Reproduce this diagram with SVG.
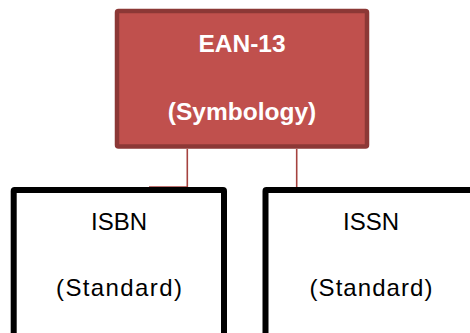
<svg xmlns="http://www.w3.org/2000/svg" width="470" height="333" viewBox="0 0 470 333">
<style>
.conn{fill:none;stroke:#A5423F;stroke-width:1.6}
.top rect{fill:#C0504D;stroke:#8C3836;stroke-width:4.5}
.top text{fill:#FFFFFF;font-family:"Liberation Sans",Arial,sans-serif;font-weight:bold;font-size:24.5px;text-anchor:middle}
.std rect{fill:#FFFFFF;stroke:#000000;stroke-width:6}
.std text{fill:#000000;font-family:"Liberation Sans",Arial,sans-serif;font-size:24px;text-anchor:middle}
</style>
<rect width="470" height="333" fill="#FFFFFF"/>
<g id="connectors">
<path class="conn" d="M187.3,149 V187 H149"/>
<path class="conn" d="M296.7,149 V188"/>
</g>
<g id="ean13" class="top">
<rect x="117" y="11" width="250" height="135.5" rx="1.5"/>
<text x="242" y="52">EAN-13</text>
<text x="242" y="120">(Symbology)</text>
</g>
<g id="isbn" class="std">
<rect x="13.7" y="190" width="210.3" height="160" rx="1"/>
<text x="119" y="230">ISBN</text>
<text x="119" y="296" textLength="126" lengthAdjust="spacing">(Standard)</text>
</g>
<g id="issn" class="std">
<rect x="265.5" y="190" width="210.5" height="160" rx="1"/>
<text x="371" y="230">ISSN</text>
<text x="371" y="296" textLength="123" lengthAdjust="spacing">(Standard)</text>
</g>
</svg>
